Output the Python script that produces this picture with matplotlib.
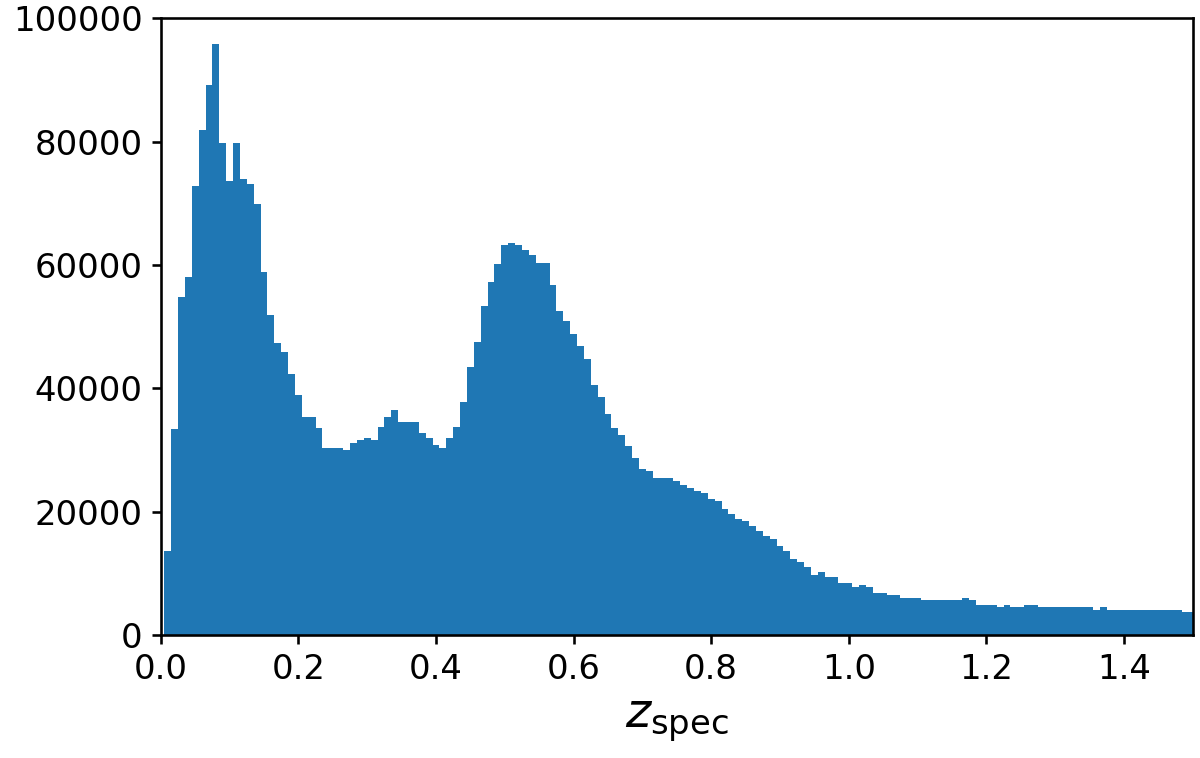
import matplotlib
matplotlib.use('Agg')
import numpy as np
import matplotlib.pyplot as plt

# bin edges: 0.01 wide, first edge at 0.005
bin_start = 0.005
bin_width = 0.01

# counts per bin
counts = [
    13600, 33500, 54800, 58100, 72800, 81800, 89200, 95800, 79700, 73600,
    79700, 74000, 73200, 69900, 58900, 51900, 47400, 45900, 42300, 39000,
    35300, 35300, 33600, 30400, 30400, 30400, 30000, 31200, 31600, 32000,
    31600, 33700, 35300, 36500, 34500, 34500, 34500, 32800, 32000, 30800,
    30400, 32000, 33700, 37800, 43500, 47600, 53400, 57200, 60100, 63200,
    63600, 63200, 62400, 61600, 60400, 60400, 56700, 52600, 50900, 48800,
    46800, 44800, 40600, 38600, 35800, 33600, 32400, 30700, 28700, 27000,
    26600, 25400, 25400, 25400, 25000, 24300, 23800, 23400, 23000, 22100,
    21700, 20500, 19700, 18900, 18500, 17700, 16900, 16000, 15600, 14400,
    13600, 12300, 11900, 11000, 9800, 10300, 9500, 9500, 8500, 8500,
    7800, 8200, 7800, 6900, 6900, 6500, 6500, 6100, 6100, 6100,
    5700, 5700, 5700, 5700, 5700, 5700, 6100, 5700, 4900, 4900,
    4900, 4600, 4850, 4600, 4600, 4950, 4950, 4550, 4550, 4550,
    4550, 4550, 4550, 4550, 4550, 4100, 4500, 4100, 4100, 4100,
    4100, 4100, 4100, 4100, 4100, 4100, 4100, 4100, 3700, 3700,
]

edges = bin_start + bin_width * np.arange(len(counts) + 1)

plt.rcParams['axes.linewidth'] = 1.0
plt.rcParams['xtick.major.width'] = 1.0
plt.rcParams['ytick.major.width'] = 1.0

fig, ax = plt.subplots(figsize=(6.4, 4.0427), dpi=187.5)
ax.stairs(counts, edges, fill=True, color='#1f77b4')

ax.set_xlim(0, 1.5)
ax.set_ylim(0, 100000)
ax.set_xticks(np.arange(0, 1.41, 0.2))
ax.set_yticks(np.arange(0, 100001, 20000))
ax.tick_params(labelsize=13)
ax.set_xlabel(r'$z_{\rm spec}$', fontsize=18.5)

fig.subplots_adjust(left=0.134, right=0.994, top=0.976, bottom=0.162)
fig.savefig('out.png', dpi=187.5)
